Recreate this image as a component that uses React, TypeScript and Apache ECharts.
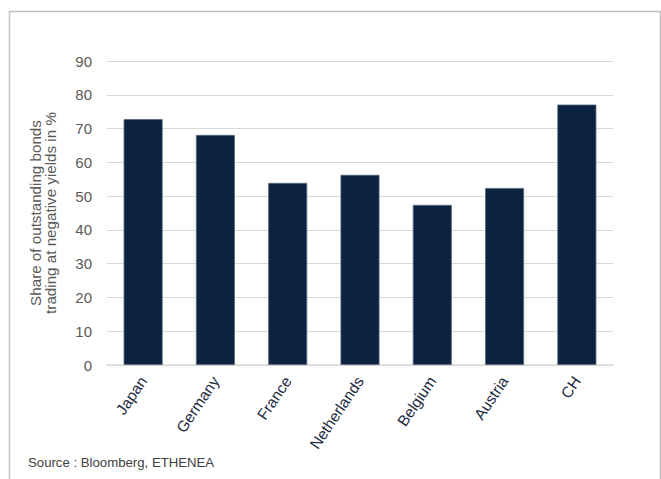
import React, { useEffect, useRef } from "react";
import * as echarts from "echarts";

const categories = ["Japan", "Germany", "France", "Netherlands", "Belgium", "Austria", "CH"];
const shareValues = [72.8, 68.1, 53.9, 56.3, 47.4, 52.4, 77.1];
const yTicks = { min: 0, max: 90, interval: 10 };
const yAxisTitle = "Share of outstanding bonds\ntrading at negative yields in %";
const sourceText = "Source : Bloomberg, ETHENEA";

export default function App() {
  const ref = useRef<HTMLDivElement>(null);
  useEffect(() => {
    if (!ref.current) return;
    const chart = echarts.init(ref.current, null, { renderer: "svg" });
    const font = "'Liberation Sans', Arial, sans-serif";
    chart.setOption({
      animation: false,
      backgroundColor: "#ffffff",
      grid: { left: 107, right: 48, top: 61, bottom: 114, containLabel: false },
      xAxis: {
        type: "category",
        data: categories,
        axisTick: { show: false },
        axisLine: { show: true, lineStyle: { color: "#d9d9d9", width: 1.5 } },
        axisLabel: {
          rotate: 56,
          interval: 0,
          margin: 13,
          fontSize: 15.5,
          fontFamily: font,
          color: "#1d2a40",
        },
      },
      yAxis: {
        type: "value",
        min: yTicks.min,
        max: yTicks.max,
        interval: yTicks.interval,
        name: yAxisTitle,
        nameLocation: "middle",
        nameGap: 49,
        nameRotate: 90,
        nameTextStyle: {
          fontSize: 15.2,
          fontFamily: font,
          color: "#595959",
          lineHeight: 15,
          align: "center",
        },
        axisLine: { show: false },
        axisTick: { show: false },
        axisLabel: { fontSize: 15, fontFamily: font, color: "#595959", margin: 15 },
        splitLine: { lineStyle: { color: "#d9d9d9", width: 1.2 } },
      },
      series: [
        {
          type: "bar",
          data: shareValues,
          barWidth: 39,
          itemStyle: { color: "#0b2341", borderColor: "#56677f", borderWidth: 0.8 },
        },
      ],
      graphic: [
        {
          type: "rect",
          left: 7,
          top: 9,
          shape: { x: 0, y: 0, width: 651, height: 490 },
          style: { fill: "none", stroke: "#bfbfbf", lineWidth: 1.5 },
          silent: true,
        },
        {
          type: "text",
          left: 28,
          top: 456,
          style: { text: sourceText, fontSize: 13.2, fontFamily: font, fill: "#404040" },
        },
      ],
    });
    return () => chart.dispose();
  }, []);
  return (
    <div
      ref={ref}
      style={{ position: "fixed", left: 0, top: 0, width: 661, height: 479 }}
    />
  );
}
